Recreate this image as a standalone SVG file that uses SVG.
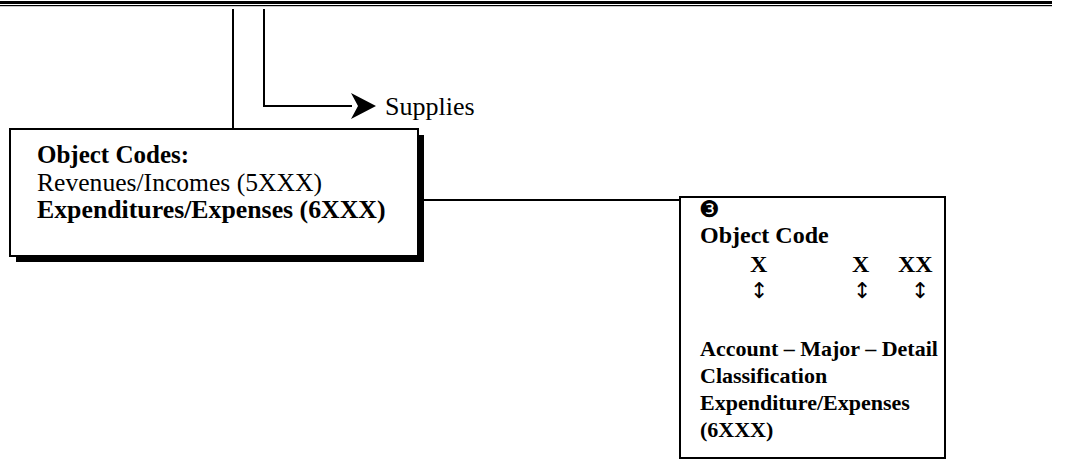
<svg xmlns="http://www.w3.org/2000/svg" width="1070" height="462" viewBox="0 0 1070 462">
<style>
.t{font-family:"Liberation Serif","Times New Roman",serif;fill:#000;}
.b{font-weight:bold;}
.s{font-family:"DejaVu Sans",sans-serif;fill:#000;}
.ln{stroke:#000;stroke-width:2;fill:none;}
.box{fill:#fff;stroke:#000;stroke-width:2;}
</style>
<g id="header-rule">
<rect x="0" y="1" width="1052" height="3" fill="#000"/>
<rect x="0" y="5" width="1052" height="1.2" fill="#000"/>
</g>
<g id="connectors">
<line class="ln" x1="233" y1="9" x2="233" y2="129"/>
<path class="ln" d="M264,9 V106 H352"/>
<path d="M376,106 L351,93 L358,106 L351,119 Z" fill="#000"/>
<line class="ln" x1="418" y1="200" x2="680" y2="200"/>
</g>
<g id="supplies">
<text class="t" x="385" y="115" font-size="26">Supplies</text>
</g>
<g id="object-codes">
<rect x="16" y="135" width="408" height="127" fill="#000"/>
<rect class="box" x="10" y="129" width="408" height="127"/>
<text class="t b" x="37" y="163" font-size="25">Object Codes:</text>
<text class="t" x="37" y="191" font-size="25.6">Revenues/Incomes (5XXX)</text>
<text class="t b" x="37" y="218" font-size="25.8">Expenditures/Expenses (6XXX)</text>
</g>
<g id="object-code-detail">
<rect class="box" x="680" y="197" width="265" height="261"/>
<text class="s" x="699" y="217" font-size="23">❸</text>
<text class="t b" x="700" y="243" font-size="24">Object Code</text>
<text class="t b" x="750" y="272" font-size="24">X</text>
<text class="t b" x="852" y="272" font-size="24">X</text>
<text class="t b" x="898" y="272" font-size="24">XX</text>
<text class="s" x="750" y="298" font-size="22">↕</text>
<text class="s" x="853" y="298" font-size="22">↕</text>
<text class="s" x="911" y="298" font-size="22">↕</text>
<text class="t b" x="700" y="356" font-size="22">Account – Major – Detail</text>
<text class="t b" x="700" y="383" font-size="22">Classification</text>
<text class="t b" x="700" y="410" font-size="22">Expenditure/Expenses</text>
<text class="t b" x="700" y="437" font-size="22">(6XXX)</text>
</g>
</svg>
